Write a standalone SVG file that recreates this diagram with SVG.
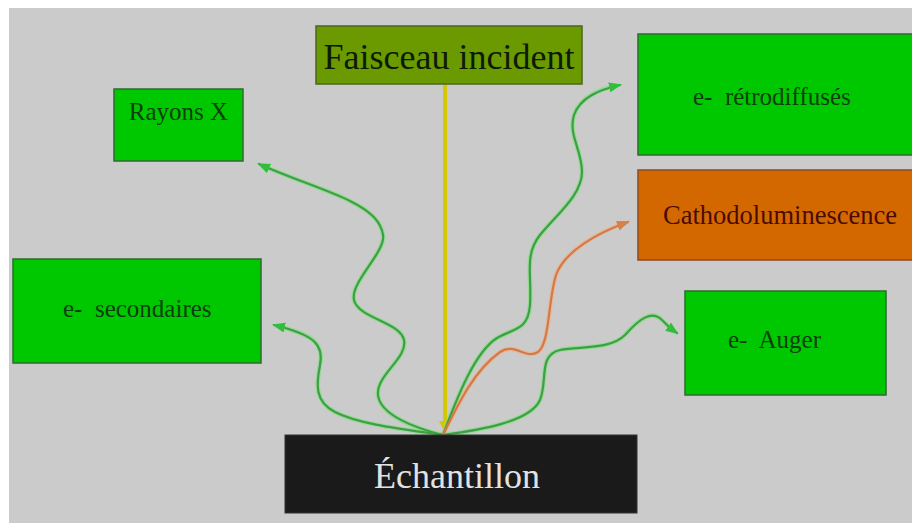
<svg xmlns="http://www.w3.org/2000/svg" width="912" height="524" viewBox="0 0 912 524">
  <defs>
    <style>
      .lbl { font-family: "Liberation Serif", "Times New Roman", serif; }
      .box-green { fill: #00c800; stroke: #2f6b2f; stroke-width: 1.5; }
      .t-green { fill: #0c3f0c; font-size: 25px; }
      .wire-halo { fill: none; stroke: #7ee07e; stroke-width: 4.5; stroke-linecap: round; opacity: 0.7; }
      .wire-green { fill: none; stroke: #3f9f45; stroke-width: 2.2; stroke-linecap: round; }
      .wire-orange-halo { fill: none; stroke: #f0b088; stroke-width: 4.5; stroke-linecap: round; opacity: 0.7; }
      .wire-orange { fill: none; stroke: #d27a48; stroke-width: 2.2; stroke-linecap: round; }
    </style>
    <marker id="arrow-green" markerUnits="userSpaceOnUse" markerWidth="14" markerHeight="11" refX="11" refY="5" orient="auto">
      <path d="M0,0 L13,5 L0,10 z" fill="#2fbf3a"/>
    </marker>
    <marker id="arrow-orange" markerUnits="userSpaceOnUse" markerWidth="14" markerHeight="11" refX="11" refY="5" orient="auto">
      <path d="M0,0 L13,5 L0,10 z" fill="#d98048"/>
    </marker>
    <marker id="arrow-yellow" markerUnits="userSpaceOnUse" markerWidth="14" markerHeight="14" refX="11" refY="6" orient="auto">
      <path d="M0,0 L12,6 L0,12 z" fill="#d6c800"/>
    </marker>
  </defs>

  <!-- page background -->
  <rect x="0" y="0" width="912" height="524" fill="#ffffff"/>
  <rect x="9" y="8" width="903" height="515" fill="#cbcbcb"/>

  <!-- connectors -->
  <g id="connectors">
    <!-- incident beam -->
    <line x1="445" y1="84" x2="445" y2="432" stroke="#d6c800" stroke-width="4" marker-end="url(#arrow-yellow)"/>

    <!-- halos -->
    <path class="wire-halo" d="M443,435 C415,428 380,415 378,395 C376,375 408,358 404,340 C400,322 358,318 354,300 C350,282 386,252 383,235 C381,222 372,212 350,201 S290,178 264,166"/>
    <path class="wire-halo" d="M443,435 C410,430 360,425 335,412 C315,402 316,385 320,365 C324,345 315,335 280,327"/>
    <path class="wire-halo" d="M443,435 C458,395 475,352 497,338 C515,328 528,330 530,305 C532,275 524,255 540,235 C556,215 582,195 582,172 C582,150 568,135 574,115 C580,98 598,90 614,86"/>
    <path class="wire-halo" d="M443,435 C480,430 530,422 540,400 C548,380 538,355 560,350 C580,346 610,350 625,335 C640,318 652,310 662,320 S668,327 672,330"/>
    <path class="wire-orange-halo" d="M443,435 C460,400 475,370 500,352 C515,342 525,360 538,352 C550,343 548,300 556,275 C565,250 600,232 622,224"/>

    <!-- Rayons X -->
    <path class="wire-green" marker-end="url(#arrow-green)" d="M443,435 C415,428 380,415 378,395 C376,375 408,358 404,340 C400,322 358,318 354,300 C350,282 386,252 383,235 C381,222 372,212 350,201 S290,178 259,164"/>
    <!-- e- secondaires -->
    <path class="wire-green" marker-end="url(#arrow-green)" d="M443,435 C410,430 360,425 335,412 C315,402 316,385 320,365 C324,345 315,335 274,325"/>
    <!-- e- retrodiffuses -->
    <path class="wire-green" marker-end="url(#arrow-green)" d="M443,435 C458,395 475,352 497,338 C515,328 528,330 530,305 C532,275 524,255 540,235 C556,215 582,195 582,172 C582,150 568,135 574,115 C580,98 598,90 620,85"/>
    <!-- e- Auger -->
    <path class="wire-green" marker-end="url(#arrow-green)" d="M443,435 C480,430 530,422 540,400 C548,380 538,355 560,350 C580,346 610,350 625,335 C640,318 652,310 662,320 S670,328 677,333"/>
    <!-- cathodoluminescence -->
    <path class="wire-orange" marker-end="url(#arrow-orange)" d="M443,435 C460,400 475,370 500,352 C515,342 525,360 538,352 C550,343 548,300 556,275 C565,250 600,232 628,222"/>
  </g>

  <!-- nodes -->
  <g id="faisceau-incident">
    <rect x="316" y="26" width="266" height="58" fill="#6a9a00" stroke="#4b6620" stroke-width="1.5"/>
    <text class="lbl" x="449" y="69" font-size="36" text-anchor="middle" fill="#0d1a05">Faisceau incident</text>
  </g>

  <g id="rayons-x">
    <rect class="box-green" x="114" y="89" width="129" height="72"/>
    <text class="lbl t-green" x="178.5" y="120" font-size="26" text-anchor="middle">Rayons X</text>
  </g>

  <g id="e-retrodiffuses">
    <rect class="box-green" x="638" y="34" width="280" height="121"/>
    <text class="lbl t-green" x="693" y="105">e-&#160; rétrodiffusés</text>
  </g>

  <g id="cathodoluminescence">
    <rect x="638" y="170" width="280" height="90" fill="#d46800" stroke="#8a4a22" stroke-width="1.5"/>
    <text class="lbl" x="663" y="224" font-size="26.5" fill="#4a0c00">Cathodoluminescence</text>
  </g>

  <g id="e-secondaires">
    <rect class="box-green" x="13" y="259" width="248" height="104"/>
    <text class="lbl t-green" x="63" y="317">e-&#160; secondaires</text>
  </g>

  <g id="e-auger">
    <rect class="box-green" x="685" y="291" width="201" height="104"/>
    <text class="lbl t-green" x="728" y="348">e-&#160; Auger</text>
  </g>

  <g id="echantillon">
    <rect x="285" y="435" width="352" height="78" fill="#1a1a1a" stroke="#333333" stroke-width="1"/>
    <text class="lbl" x="457" y="488" font-size="36" text-anchor="middle" fill="#e2e2e2">Échantillon</text>
  </g>
</svg>
